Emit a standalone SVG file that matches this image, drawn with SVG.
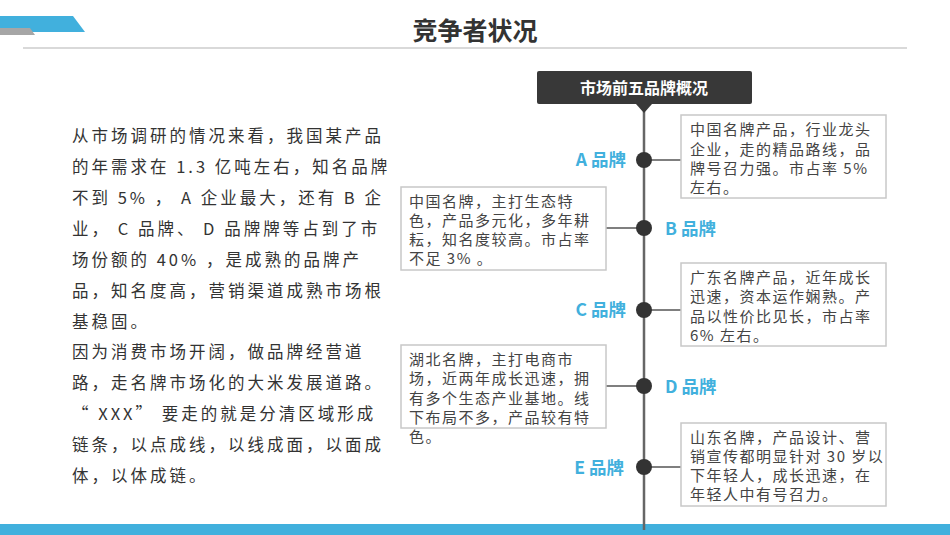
<svg xmlns="http://www.w3.org/2000/svg" width="950" height="535" viewBox="0 0 950 535">
<style>
.t{font-family:"Noto Sans CJK SC","Liberation Sans",sans-serif;fill:#333}
.body{font-size:16.5px;letter-spacing:3px}
.bx{font-size:15px;fill:#444;letter-spacing:1.5px}
.lab{font-family:"Noto Sans CJK SC",sans-serif;font-size:17.5px;font-weight:bold;fill:#41b0dd}
.box{fill:#fff;stroke:#c8c8c8;stroke-width:1.5}
.dot{fill:#333}
.ln{stroke:#555;stroke-width:1.5}
</style>
<rect width="950" height="535" fill="#fff"/>
<polygon points="0,16 73,16 85,32 0,32" fill="#41b0dd"/>
<polygon points="0,28 30,28 35,35 0,35" fill="#a6a6a6"/>
<rect x="0" y="524" width="950" height="11" fill="#41b0dd"/>
<text x="475" y="40" text-anchor="middle" class="t" font-size="25" font-weight="bold" fill="#2f3b40">竞争者状况</text>
<line x1="23" y1="48" x2="907" y2="48" stroke="#ccc" stroke-width="1.5"/>
<g id="left-text" class="t body">
<text x="72" y="142">从市场调研的情况来看，我国某产品</text>
<text x="72" y="173">的年需求在 1.3 亿吨左右，知名品牌</text>
<text x="72" y="204">不到 5% ， A 企业最大，还有 B 企</text>
<text x="72" y="235">业， C 品牌、 D 品牌牌等占到了市</text>
<text x="72" y="266">场份额的 40% ，是成熟的品牌产</text>
<text x="72" y="297">品，知名度高，营销渠道成熟市场根</text>
<text x="72" y="328">基稳固。</text>
<text x="72" y="358">因为消费市场开阔，做品牌经营道</text>
<text x="72" y="389">路，走名牌市场化的大米发展道路。</text>
<text x="72" y="420">“ XXX” 要走的就是分清区域形成</text>
<text x="72" y="451">链条，以点成线，以线成面，以面成</text>
<text x="72" y="482">体，以体成链。</text>
</g>
<g id="connectors">
<line x1="644" y1="108" x2="644" y2="530" stroke="#666" stroke-width="2.5"/>
<line class="ln" x1="644" y1="160" x2="681" y2="160"/>
<line class="ln" x1="606" y1="228" x2="644" y2="228"/>
<line class="ln" x1="644" y1="310" x2="681" y2="310"/>
<line class="ln" x1="606" y1="386" x2="644" y2="386"/>
<line class="ln" x1="644" y1="467" x2="681" y2="467"/>
</g>
<g id="header">
<rect x="537" y="71" width="215" height="33" rx="2" fill="#383838"/>
<polygon points="636,104 652,104 644,113" fill="#383838"/>
<text x="644" y="94" text-anchor="middle" font-family="Noto Sans CJK SC,sans-serif" font-size="16" font-weight="bold" fill="#fff">市场前五品牌概况</text>
</g>
<g id="A"><circle class="dot" cx="644" cy="160" r="8"/><text class="lab" x="626" y="166" text-anchor="end">A 品牌</text>
<rect class="box" x="681" y="115" width="205" height="83"/>
<g class="t bx"><text x="690" y="135">中国名牌产品，行业龙头</text><text x="690" y="155">企业，走的精品路线，品</text><text x="690" y="174">牌号召力强。市占率 5%</text><text x="690" y="193">左右。</text></g></g>
<g id="B"><circle class="dot" cx="644" cy="228" r="8"/><text class="lab" x="665" y="235">B 品牌</text>
<rect class="box" x="401" y="187" width="205" height="83"/>
<g class="t bx"><text x="409" y="207">中国名牌，主打生态特</text><text x="409" y="226">色，产品多元化，多年耕</text><text x="409" y="245">耘，知名度较高。市占率</text><text x="409" y="264">不足 3% 。</text></g></g>
<g id="C"><circle class="dot" cx="644" cy="310" r="8"/><text class="lab" x="626" y="316" text-anchor="end">C 品牌</text>
<rect class="box" x="681" y="263" width="205" height="83"/>
<g class="t bx"><text x="690" y="283">广东名牌产品，近年成长</text><text x="690" y="302">迅速，资本运作娴熟。产</text><text x="690" y="322">品以性价比见长，市占率</text><text x="690" y="341">6% 左右。</text></g></g>
<g id="D"><circle class="dot" cx="644" cy="386" r="8"/><text class="lab" x="665" y="393">D 品牌</text>
<rect class="box" x="401" y="345" width="205" height="83"/>
<g class="t bx"><text x="409" y="365">湖北名牌，主打电商市</text><text x="409" y="384">场，近两年成长迅速，拥</text><text x="409" y="404">有多个生态产业基地。线</text><text x="409" y="423">下布局不多，产品较有特</text><text x="409" y="442">色。</text></g></g>
<g id="E"><circle class="dot" cx="644" cy="467" r="8"/><text class="lab" x="624" y="474" text-anchor="end">E 品牌</text>
<rect class="box" x="681" y="423" width="205" height="83"/>
<g class="t bx"><text x="690" y="443">山东名牌，产品设计、营</text><text x="690" y="462">销宣传都明显针对 30 岁以</text><text x="690" y="481">下年轻人，成长迅速，在</text><text x="690" y="500">年轻人中有号召力。</text></g></g>
</svg>
